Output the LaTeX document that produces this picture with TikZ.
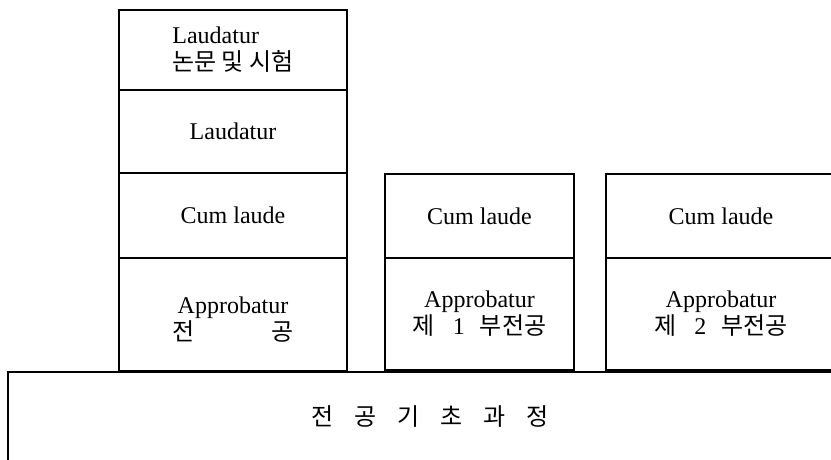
\documentclass[tikz,border=0pt]{standalone}
\usepackage{fontspec}
\setmainfont{Liberation Serif}
\newfontfamily\kr{Noto Sans CJK KR}
\begin{document}
\begin{tikzpicture}[x=1pt,y=-1pt,
  cell/.style={draw, line width=1.2pt, inner sep=0pt, align=center,
    font=\fontsize{24}{27}\selectfont}]
\useasboundingbox (0,0) rectangle (831,459);
\clip (0,0) rectangle (831,459);
% left column
\node[cell, align=left, minimum width=228pt, minimum height=80pt] (l1) at (233,50)
  {Laudatur\\{\kr 논문 및 시험}};
\node[cell, minimum width=228pt, minimum height=83pt] (l2) at (233,131.5) {Laudatur};
\node[cell, minimum width=228pt, minimum height=85pt] (l3) at (233,215.5) {Cum laude};
\node[cell, minimum width=228pt, minimum height=113pt] (l4) at (233,314.5)
  {\rule{0pt}{26pt}Approbatur\\\makebox[121pt]{{\kr 전}\hfill{\kr 공}}};
% middle column
\node[cell, minimum width=189pt, minimum height=84pt] (m1) at (479.5,216) {Cum laude};
\node[cell, minimum width=189pt, minimum height=112pt] (m2) at (479.5,314)
  {Approbatur\\{\kr 제}\hspace{18pt}1\hspace{15pt}{\kr 부전공}};
% right column
\node[cell, minimum width=230pt, minimum height=84pt] (r1) at (721,216) {Cum laude};
\node[cell, minimum width=230pt, minimum height=112pt] (r2) at (721,314)
  {Approbatur\\{\kr 제}\hspace{18pt}2\hspace{15pt}{\kr 부전공}};
% base
\node[cell, minimum width=844pt, minimum height=90pt] (base) at (430,417)
  {{\kr 전\hspace{21pt}공\hspace{21pt}기\hspace{21pt}초\hspace{21pt}과\hspace{21pt}정}};
\end{tikzpicture}
\end{document}
